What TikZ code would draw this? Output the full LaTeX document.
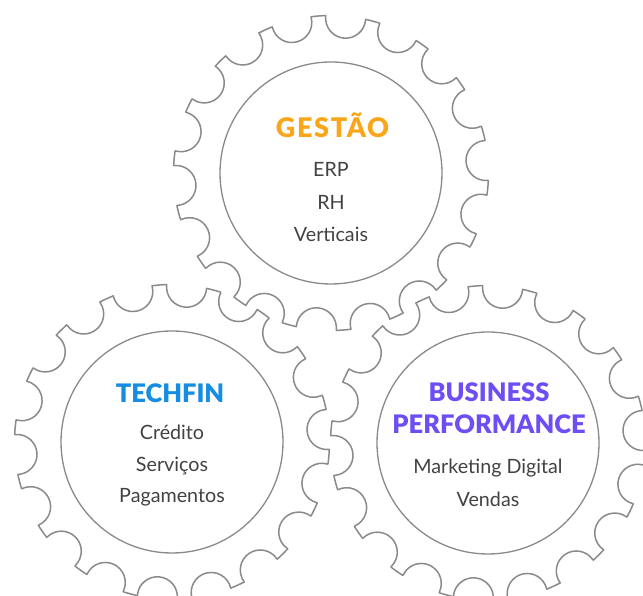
\documentclass[tikz,border=0pt]{standalone}
\usepackage{fontspec}
\setmainfont{Lato}
\newfontfamily\ttlfont{Lato Black}
\newfontfamily\ttlwidefont[LetterSpace=6]{Lato Black}
\definecolor{gearcol}{RGB}{138,138,138}
\definecolor{txtcol}{RGB}{66,66,66}
\definecolor{orangec}{RGB}{250,166,26}
\definecolor{bluec}{RGB}{22,140,226}
\definecolor{purplec}{RGB}{108,78,244}
\tikzset{
  gearline/.style={draw=gearcol, line width=1.5pt, fill=white, line join=round},
  innerline/.style={draw=gearcol, line width=1.3pt},
  ttl/.style={font=\fontsize{25.5}{28}\selectfont\ttlfont, anchor=base, inner sep=0pt},
  ttlwide/.style={font=\fontsize{27}{30}\selectfont\ttlwidefont, anchor=base, inner sep=0pt},
  body/.style={font=\fontsize{19.7}{22}\selectfont, text=txtcol, anchor=base, inner sep=0pt},
  pics/gear/.style={code={
    \draw[gearline] (4.6-7.33:157.5)
      \foreach \k in {0,...,17}{
        -- ({4.6+20*\k-7.33}:156.78)
        arc[start angle={4.6+20*\k-90}, end angle={4.6+20*\k-270}, radius=20]
        -- ({4.6+20*\k+7.33}:157.5)
        arc[start angle={4.6+20*\k+7.33}, end angle={4.6+20*\k+20-7.33}, radius=157.5]
      } -- cycle;
    \draw[innerline] (0,0) circle[radius=111];
  }}
}
\begin{document}
\begin{tikzpicture}[x=1pt,y=1pt]
\useasboundingbox (0,0) rectangle (643,596);
\clip (0,0) rectangle (643,596);
\coordinate (gtop) at (331,423);
\coordinate (gleft) at (172,154);
\coordinate (gright) at (488,153);
\pic at (gtop) {gear};
\pic at (gleft) {gear};
\pic at (gright) {gear};
% top gear texts
\node[ttlwide, text=orangec] (gestao) at (332.5,458) {GESTÃO};
\node[body] (erp) at (331,419) {ERP};
\node[body] (rh) at (331,386) {RH};
\node[body] (vert) at (331,354) {Verticais};
% left gear texts
\node[ttl, text=bluec] (techfin) at (170,193) {TECHFIN};
\node[body] (cred) at (172,156) {Crédito};
\node[body] (serv) at (172,124) {Serviços};
\node[body] (pag) at (172,93) {Pagamentos};
% right gear texts
\node[ttl, text=purplec] (bus) at (489,194) {BUSINESS};
\node[ttl, text=purplec] (perf) at (489,162) {PERFORMANCE};
\node[body] (mkt) at (488,122) {Marketing Digital};
\node[body] (vend) at (488,89) {Vendas};
\end{tikzpicture}
\end{document}
